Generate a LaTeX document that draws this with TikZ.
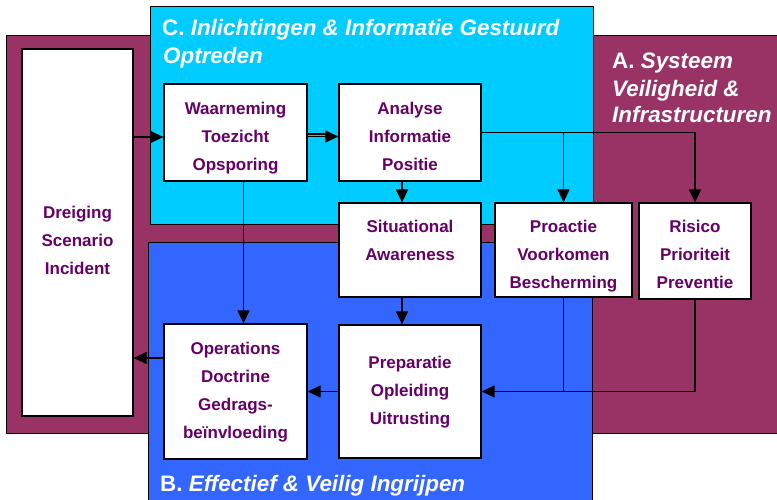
\documentclass[tikz,border=0pt]{standalone}
\usepackage{fontspec}
\setmainfont{Liberation Sans}
\usetikzlibrary{arrows.meta}
\definecolor{sysA}{HTML}{993366}
\definecolor{infoC}{HTML}{00CCFF}
\definecolor{actB}{HTML}{3366FF}
\definecolor{ink}{HTML}{660066}
\begin{document}
\begin{tikzpicture}[x=1pt,y=-1pt,
  zone/.style={line width=1pt,draw=black},
  box/.style={draw=black,line width=1.2pt,fill=white,inner sep=0pt},
  txt/.style={text=ink,inner sep=0pt,align=center,
    font=\bfseries\fontsize{17}{28}\selectfont},
  title/.style={anchor=base west,inner sep=0pt,text=white,
    font=\bfseries\fontsize{22.4}{27}\selectfont},
  arr/.style={line width=1.2pt,-{Triangle[length=13pt,width=12pt]}},
  link/.style={line width=1.2pt}]
\useasboundingbox (0,0) rectangle (777,500);

% A: system safety and infrastructure (open to the right)
\fill[sysA] (6,36) rectangle (777,433);
\draw[zone] (777,36) -- (6,36) -- (6,433) -- (777,433);

% C: intelligence-led operations
\filldraw[zone,fill=infoC] (150,7) rectangle (593,224);

% B: effective and safe intervention (open at the bottom)
\fill[actB] (148,242) rectangle (592,500);
\draw[zone] (148,500) -- (148,242) -- (592,242) -- (592,500);

% zone titles
\node[title] (tC1) at (162,36) {C. \textit{Inlichtingen \& Informatie Gestuurd}};
\node[title] (tC2) at (163,64) {\textit{Optreden}};
\node[title] (tA1) at (612,69) {A. \textit{Systeem}};
\node[title] (tA2) at (612,97) {\textit{Veiligheid \&}};
\node[title] (tA3) at (612,123) {\textit{Infrastructuren}};
\node[title] (tB1) at (160,491) {B. \textit{Effectief \& Veilig Ingrijpen}};

% process boxes
\node[box,minimum width=111pt,minimum height=367pt] (dre) at (77.5,232.5) {};
\node[box,minimum width=143pt,minimum height=97pt] (wrn) at (235.5,132.5) {};
\node[box,minimum width=142pt,minimum height=97pt] (ana) at (410,132.5) {};
\node[box,minimum width=142pt,minimum height=94pt] (sit) at (410,250) {};
\node[box,minimum width=137pt,minimum height=94pt] (pro) at (563.5,250) {};
\node[box,minimum width=112pt,minimum height=96pt] (ris) at (695,251) {};
\node[box,minimum width=143pt,minimum height=135pt] (ops) at (235.5,391.5) {};
\node[box,minimum width=142pt,minimum height=133pt] (prep) at (410,391.5) {};

% box texts
\node[txt] (dreT) at ([yshift=-8pt]dre.center) {Dreiging\\Scenario\\Incident};
\node[txt] (wrnT) at ([yshift=-6pt]wrn.center) {Waarneming\\Toezicht\\Opsporing};
\node[txt] (anaT) at ([yshift=-4pt]ana.center) {Analyse\\Informatie\\Positie};
\node[txt] (sitT) at ([yshift=-4pt]sit.center) {Situational\\Awareness\\\mbox{}};
\node[txt] (proT) at ([yshift=-6pt]pro.center) {Proactie\\Voorkomen\\Bescherming};
\node[txt] (risT) at ([yshift=-3pt]ris.center) {Risico\\Prioriteit\\Preventie};
\node[txt] (opsT) at ([yshift=-1pt]ops.center) {Operations\\Doctrine\\Gedrags-\\beïnvloeding};
\node[txt] (prepT) at ([yshift=-1pt]prep.center) {Preparatie\\Opleiding\\Uitrusting};

% connectors
\coordinate (inW) at ([yshift=-4.5pt]wrn.west);
\draw[arr] (inW -| dre.east) -- (inW);

\coordinate (dblA) at ([yshift=-4pt]wrn.east);
\coordinate (dblB) at ([yshift=-1.5pt]wrn.east);
\draw[arr] (dblA) -- (dblA -| ana.west);
\draw[link] (dblB) -- ([xshift=-12pt]dblB -| ana.west);

\draw[arr] (ana.east) -| (ris.north);
\draw[arr] (ana.east -| pro.north) -- (pro.north);

\draw[arr] ([xshift=-8pt]ana.south) -- ([xshift=-8pt]sit.north);
\draw[arr] ([xshift=-8pt]sit.south) -- ([xshift=-8pt]prep.north);
\draw[arr] ([xshift=8pt]wrn.south) -- ([xshift=8pt]ops.north);

\draw[link] (pro.south) |- (prep.east);
\draw[arr] (ris.south) |- (prep.east);
\draw[arr] (prep.west) -- (ops.east);

\coordinate (outO) at ([yshift=33.5pt]ops.west);
\draw[arr] (outO) -- (outO -| dre.east);
\end{tikzpicture}
\end{document}
